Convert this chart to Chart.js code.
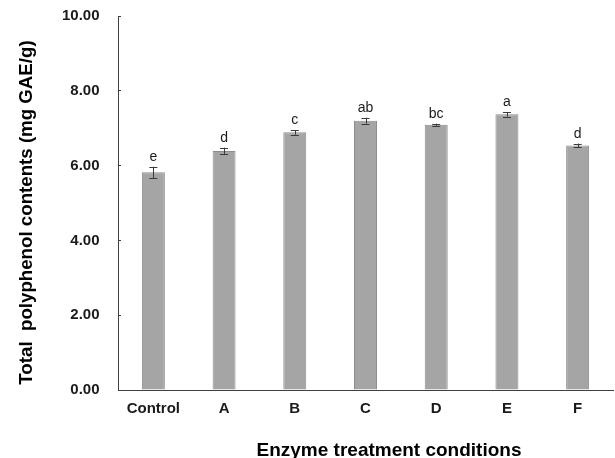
<!DOCTYPE html>
<html>
<head>
<meta charset="utf-8">
<script src="https://cdn.jsdelivr.net/npm/chart.js@4"></script>
<style>
  html, body { margin: 0; padding: 0; background: #ffffff; }
  #wrap { width: 615px; height: 458px; position: relative; }
</style>
</head>
<body>
<div id="wrap"><canvas id="c"></canvas></div>
<script>
const categories = ["Control", "A", "B", "C", "D", "E", "F"];
const values = [5.82, 6.39, 6.89, 7.20, 7.09, 7.37, 6.54];
const errors = [0.15, 0.09, 0.06, 0.08, 0.03, 0.06, 0.05];
const letters = ["e", "d", "c", "ab", "bc", "a", "d"];
const yTicks = [0, 2, 4, 6, 8, 10];
const xTitle = "Enzyme treatment conditions";
const yTitle = "Total  polyphenol contents (mg GAE/g)";

const FONT = 'Arial, "Liberation Sans", sans-serif';
const AXIS_COLOR = '#404040';

const extrasPlugin = {
  id: 'extras',
  afterDatasetsDraw(chart) {
    const ctx = chart.ctx;
    const meta = chart.getDatasetMeta(0);
    const y = chart.scales.y;
    ctx.save();
    meta.data.forEach((bar, i) => {
      const x = bar.x;
      const yTop = y.getPixelForValue(values[i] + errors[i]);
      const yBot = y.getPixelForValue(values[i] - errors[i]);
      ctx.strokeStyle = '#3a3a3a';
      ctx.lineWidth = 1;
      ctx.beginPath();
      ctx.moveTo(Math.round(x) + 0.5, yTop);
      ctx.lineTo(Math.round(x) + 0.5, yBot);
      ctx.moveTo(x - 4, Math.round(yTop) + 0.5);
      ctx.lineTo(x + 4, Math.round(yTop) + 0.5);
      ctx.moveTo(x - 4, Math.round(yBot) + 0.5);
      ctx.lineTo(x + 4, Math.round(yBot) + 0.5);
      ctx.stroke();
      ctx.fillStyle = '#1a1a1a';
      ctx.font = '14px ' + FONT;
      ctx.textAlign = 'center';
      ctx.textBaseline = 'alphabetic';
      ctx.fillText(letters[i], x, yTop - 6);
    });
    ctx.restore();
  },
  afterDraw(chart) {
    const ctx = chart.ctx;
    ctx.save();
    ctx.fillStyle = '#000000';
    ctx.font = 'bold 19px ' + FONT;
    ctx.textAlign = 'center';
    ctx.textBaseline = 'alphabetic';
    ctx.fillText(xTitle, 389, 456);
    ctx.translate(31.5, 212.5);
    ctx.rotate(-Math.PI / 2);
    ctx.font = 'bold 18.7px ' + FONT;
    ctx.fillText(yTitle, 0, 0);
    ctx.restore();
  }
};

new Chart(document.getElementById('c'), {
  type: 'bar',
  data: {
    labels: categories,
    datasets: [{
      data: values,
      backgroundColor: '#a5a5a5',
      borderColor: '#8c8c8c',
      borderWidth: 1,
      categoryPercentage: 1,
      barPercentage: 0.325
    }]
  },
  options: {
    responsive: true,
    maintainAspectRatio: false,
    animation: false,
    layout: { padding: { top: 16, right: 2, bottom: 0, left: 0 } },
    plugins: {
      legend: { display: false },
      tooltip: { enabled: false }
    },
    scales: {
      x: {
        offset: true,
        grid: { display: false, drawTicks: false },
        border: { display: true, color: AXIS_COLOR, width: 1 },
        ticks: {
          color: '#1a1a1a',
          padding: 10,
          font: { family: FONT, size: 15, weight: 'bold' },
          maxRotation: 0
        },
        afterFit(scale) {
          scale.height = 68;
          scale.paddingLeft = 0;
          scale.paddingRight = 0;
        }
      },
      y: {
        min: 0,
        max: 10,
        afterBuildTicks(scale) { scale.ticks = yTicks.map(v => ({ value: v })); },
        grid: {
          drawOnChartArea: false,
          drawTicks: true,
          tickLength: -3,
          color: AXIS_COLOR
        },
        border: { display: true, color: AXIS_COLOR, width: 1 },
        ticks: {
          color: '#1a1a1a',
          padding: 21.5,
          font: { family: FONT, size: 15, weight: 'bold' },
          callback: v => Number(v).toFixed(2)
        },
        afterFit(scale) {
          scale.width = 118;
          scale.paddingTop = 0;
          scale.paddingBottom = 0;
        }
      }
    }
  },
  plugins: [extrasPlugin]
});
</script>
</body>
</html>
